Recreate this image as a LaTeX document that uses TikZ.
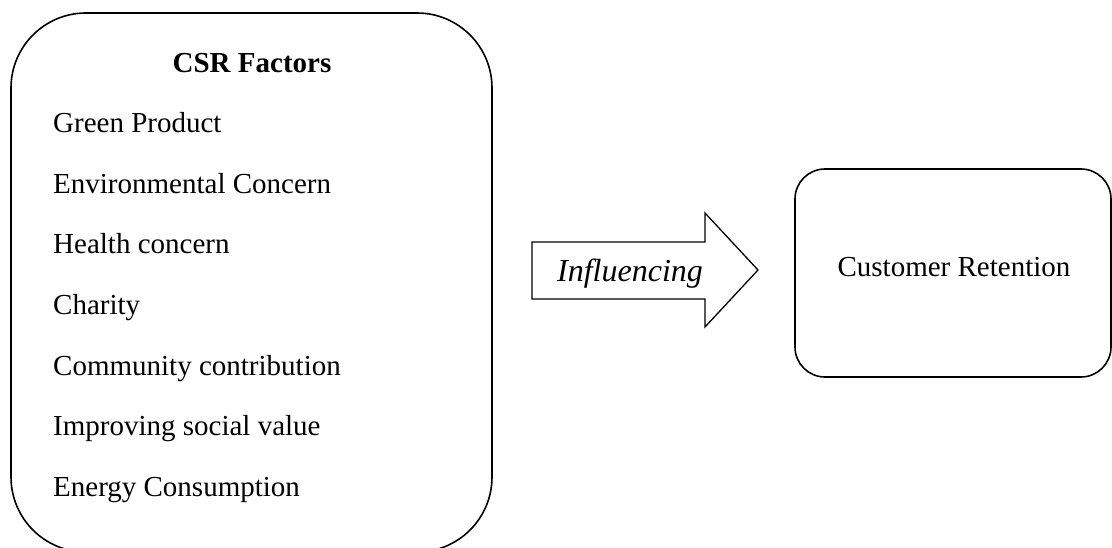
\documentclass[tikz,border=0pt]{standalone}
\usepackage{fontspec}
\setmainfont{Liberation Serif}
\begin{document}
\begin{tikzpicture}[x=1pt,y=-1pt,
  box/.style={draw, line width=1.6pt, rounded corners=#1, inner sep=0pt},
  item/.style={anchor=base west, inner sep=0pt, font=\fontsize{29}{34}\selectfont},
  arrowshape/.style={draw, line width=1.3pt, line join=miter}]
\useasboundingbox (0,0) rectangle (1112,548);
\node[box=75pt, minimum width=481pt, minimum height=539pt] (csr) at (251.5,282.5) {};
\node[box=30pt, minimum width=316pt, minimum height=208pt] (cr) at (953,273) {};
\node[item, anchor=base, font=\fontsize{29}{34}\selectfont\bfseries] (title) at (252,73) {CSR Factors};
\node[item] (f1) at (53,133) {Green Product};
\node[item] (f2) at (53,194) {Environmental Concern};
\node[item] (f3) at (53,254) {Health concern};
\node[item] (f4) at (53,315) {Charity};
\node[item] (f5) at (53,375) {Community contribution};
\node[item] (f6) at (53,435) {Improving social value};
\node[item] (f7) at (53,496) {Energy Consumption};
\node[item, anchor=base] (crt) at (954,277) {Customer Retention};
\draw[arrowshape] (532,242) -- (705,242) -- (705,213) -- (758,270) -- (705,327) -- (705,299) -- (532,299) -- cycle;
\node[item, anchor=base, font=\fontsize{32}{36}\selectfont\itshape] (inf) at (630,282) {Influencing};
\end{tikzpicture}
\end{document}
